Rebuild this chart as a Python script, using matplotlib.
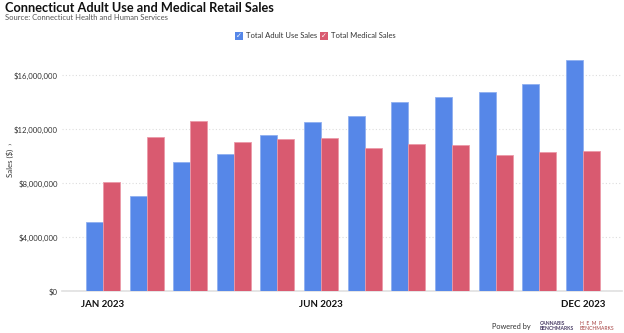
import numpy as np
import matplotlib
matplotlib.use("Agg")
import matplotlib.pyplot as plt
from matplotlib.patches import Rectangle
from matplotlib.ticker import FuncFormatter

plt.rcParams['font.family'] = ['Lato', 'DejaVu Sans']

months = ["JAN 2023", "FEB 2023", "MAR 2023", "APR 2023", "MAY 2023", "JUN 2023",
          "JUL 2023", "AUG 2023", "SEP 2023", "OCT 2023", "NOV 2023", "DEC 2023"]
adult_use = [5.13e6, 7.04e6, 9.56e6, 10.19e6, 11.56e6, 12.54e6,
             13.0e6, 14.0e6, 14.37e6, 14.74e6, 15.36e6, 17.16e6]
medical = [8.07e6, 11.45e6, 12.59e6, 11.04e6, 11.26e6, 11.36e6,
           10.61e6, 10.94e6, 10.81e6, 10.12e6, 10.32e6, 10.39e6]
shown_labels = {0: "JAN 2023", 5: "JUN 2023", 11: "DEC 2023"}

blue = "#5687E8"
red = "#D95A70"

W, H = 624, 333
fig = plt.figure(figsize=(W / 100, H / 100), dpi=100)
ax = fig.add_axes([62 / W, (H - 291.3) / H, 560 / W, 243 / H])

x = np.arange(len(months))
bw = 0.39
ax.bar(x - bw / 2, adult_use, bw, color=blue, edgecolor="#8fb0f0", linewidth=0.6, zorder=3)
ax.bar(x + bw / 2, medical, bw, color=red, edgecolor="#eb9aa8", linewidth=0.6, zorder=3)

ax.set_xlim(-0.94, 11.9)
ax.set_ylim(0, 18e6)
ax.set_yticks([0, 4e6, 8e6, 12e6, 16e6])
ax.yaxis.set_major_formatter(FuncFormatter(lambda v, p: "${:,.0f}".format(v)))
ax.tick_params(axis="y", length=0, labelsize=5.6, labelcolor="#333333", pad=3)
ax.grid(axis="y", color="#dddddd", linestyle=(0, (1, 2)), linewidth=0.8, zorder=0)
ax.set_xticks([])
for s in ["top", "right", "left"]:
    ax.spines[s].set_visible(False)
ax.spines["bottom"].set_color("#e0e0e0")
ax.spines["bottom"].set_linewidth(1.2)

for i, lab in shown_labels.items():
    ax.text(i, -0.055, lab, transform=ax.get_xaxis_transform(), ha="center", va="center",
            fontsize=7, fontweight="bold", color="#111111")

fig.text(10 / W, 1 - 160 / H, "Sales ($)  \u203a", fontsize=5.6, color="#333333",
         rotation=90, ha="center", va="center")

# title
fig.text(5 / W, 1 - 8 / H, "Connecticut Adult Use and Medical Retail Sales",
         fontsize=9.2, fontweight="bold", color="#111111", ha="left", va="center")
fig.text(5 / W, 1 - 18 / H, "Source: Connecticut Health and Human Services",
         fontsize=5.5, color="#555555", ha="left", va="center")

# legend with check boxes
legend_items = [("Total Adult Use Sales", blue, 235), ("Total Medical Sales", red, 320)]
for name, col, px in legend_items:
    fig.add_artist(Rectangle((px / W, 1 - 40 / H), 8 / W, 8 / H, transform=fig.transFigure,
                             facecolor=col, edgecolor="none"))
    fig.text((px + 4) / W, 1 - 36 / H, "\u2713", fontsize=5, color="white",
             ha="center", va="center", family=["DejaVu Sans"])
    fig.text((px + 11) / W, 1 - 36 / H, name, fontsize=5.5, color="#333333",
             ha="left", va="center")

# footer
fig.text(492 / W, 1 - 326 / H, "Powered by", fontsize=5.3, color="#333333", ha="left", va="center")
fig.text(540 / W, 1 - 326 / H, "CANNABIS\nBENCHMARKS", fontsize=3.6, fontweight="bold",
         color="#4a3d66", ha="left", va="center", linespacing=1.0)
fig.text(580 / W, 1 - 326 / H, "H  E  M  P\nBENCHMARKS", fontsize=3.6,
         color="#a33a3a", ha="left", va="center", linespacing=1.0)

fig.savefig("out.png", dpi=100)
